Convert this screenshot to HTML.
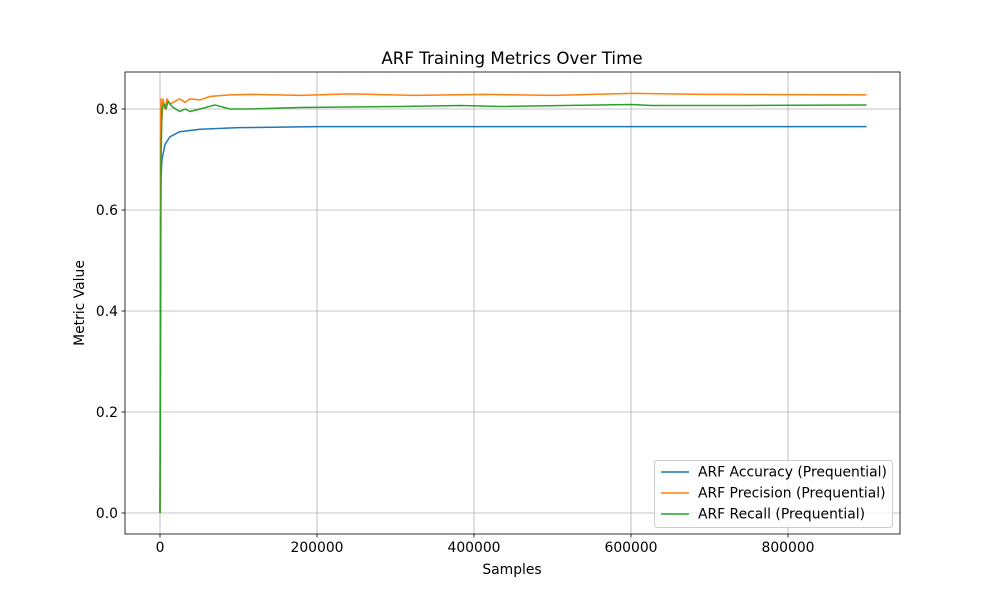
<!DOCTYPE html>
<html><head><meta charset="utf-8"><style>
body{margin:0;background:#fff;font-family:"Liberation Sans","DejaVu Sans",sans-serif}
svg text{font-family:"DejaVu Sans","Liberation Sans",sans-serif;font-size:13.9px;fill:#000}
</style></head><body>
<svg id="chart" width="1000" height="600" xmlns="http://www.w3.org/2000/svg">
<rect width="1000" height="600" fill="#fff"/>
<g id="grid"></g><g id="series"></g><g id="axes"></g>
<text x="512" y="64" text-anchor="middle" style="font-size:16.7px">ARF Training Metrics Over Time</text>
<text x="512" y="574" text-anchor="middle">Samples</text>
<text x="84" y="303" text-anchor="middle" transform="rotate(-90 84 303)">Metric Value</text>
<g>
<rect x="654.5" y="460.5" width="238" height="67" rx="3" fill="#fff" fill-opacity="0.8" stroke="#ccc"/>
<line x1="661" x2="689" y1="472" y2="472" stroke="#1f77b4" stroke-width="1.5"/>
<text x="698" y="476.5">ARF Accuracy (Prequential)</text>
<line x1="661" x2="689" y1="493" y2="493" stroke="#ff7f0e" stroke-width="1.5"/>
<text x="698" y="497.5">ARF Precision (Prequential)</text>
<line x1="661" x2="689" y1="514" y2="514" stroke="#2ca02c" stroke-width="1.5"/>
<text x="698" y="518.5">ARF Recall (Prequential)</text>
</g>
</svg>
<script>
const accX=[0,300,1200,2500,6400,12700,25000,51000,100000,200000,400000,600000,900000];
const accY=[0,0.45,0.66,0.70,0.73,0.745,0.755,0.760,0.763,0.765,0.765,0.765,0.765];
const preX=[0,300,800,1300,2500,3800,6400,9000,12700,19000,25000,32000,38000,51000,64000,89000,115000,178000,242000,325000,414000,502000,600000,690000,900000];
const preY=[0,0.27,0.75,0.82,0.78,0.82,0.80,0.82,0.81,0.815,0.82,0.813,0.82,0.818,0.825,0.828,0.829,0.827,0.83,0.827,0.829,0.827,0.831,0.829,0.828];
const recX=[0,500,1300,2500,5100,7600,10200,15300,25000,32000,38000,51000,70000,89000,115000,178000,306000,383000,434000,600000,626000,750000,900000];
const recY=[0,0.14,0.70,0.80,0.81,0.80,0.815,0.805,0.795,0.80,0.795,0.80,0.808,0.80,0.80,0.803,0.805,0.807,0.805,0.809,0.807,0.807,0.808];
const xTicks=[0,200000,400000,600000,800000];
const yTicks=[0,0.2,0.4,0.6,0.8];
const L=125,R=900,T=72,B=534;
const sx=v=>160+v*157/200000, sy=v=>513-v*505;
const NS='http://www.w3.org/2000/svg';
function mk(tag,attrs,parent){const e=document.createElementNS(NS,tag);for(const k in attrs)e.setAttribute(k,attrs[k]);parent.appendChild(e);return e;}
const grid=document.getElementById('grid'),axes=document.getElementById('axes'),ser=document.getElementById('series');
xTicks.forEach(v=>{const x=sx(v);
 const g=mk('line',{x1:x,x2:x,y1:T,y2:B,stroke:'#b0b0b0','stroke-width':0.8},grid);
 
 
 mk('line',{x1:x,x2:x,y1:B,y2:B+3.5,stroke:'#000','stroke-width':0.8},axes);
 const t=mk('text',{x:x,y:B+18,'text-anchor':'middle'},axes);t.textContent=String(v);
 
 });
yTicks.forEach(v=>{const y=sy(v);
 const g=mk('line',{x1:L,x2:R,y1:y,y2:y,stroke:'#b0b0b0','stroke-width':0.8},grid);
 
 
 mk('line',{x1:L-3.5,x2:L,y1:y,y2:y,stroke:'#000','stroke-width':0.8},axes);
 const t=mk('text',{x:L-7,y:y+5,'text-anchor':'end'},axes);t.textContent=v.toFixed(1);
 
 });
const fr=mk('rect',{x:L,y:T,width:R-L,height:B-T,fill:'none',stroke:'#000','stroke-width':0.8},axes);


function line(xs,ys,color,name){const p=mk('polyline',{points:xs.map((x,i)=>sx(x)+','+sy(ys[i])).join(' '),fill:'none',stroke:color,'stroke-width':1.5,'stroke-linejoin':'round'},ser);
 
 }
line(accX,accY,'#1f77b4','accuracy-line');
line(preX,preY,'#ff7f0e','precision-line');
line(recX,recY,'#2ca02c','recall-line');
</script>
</body></html>
